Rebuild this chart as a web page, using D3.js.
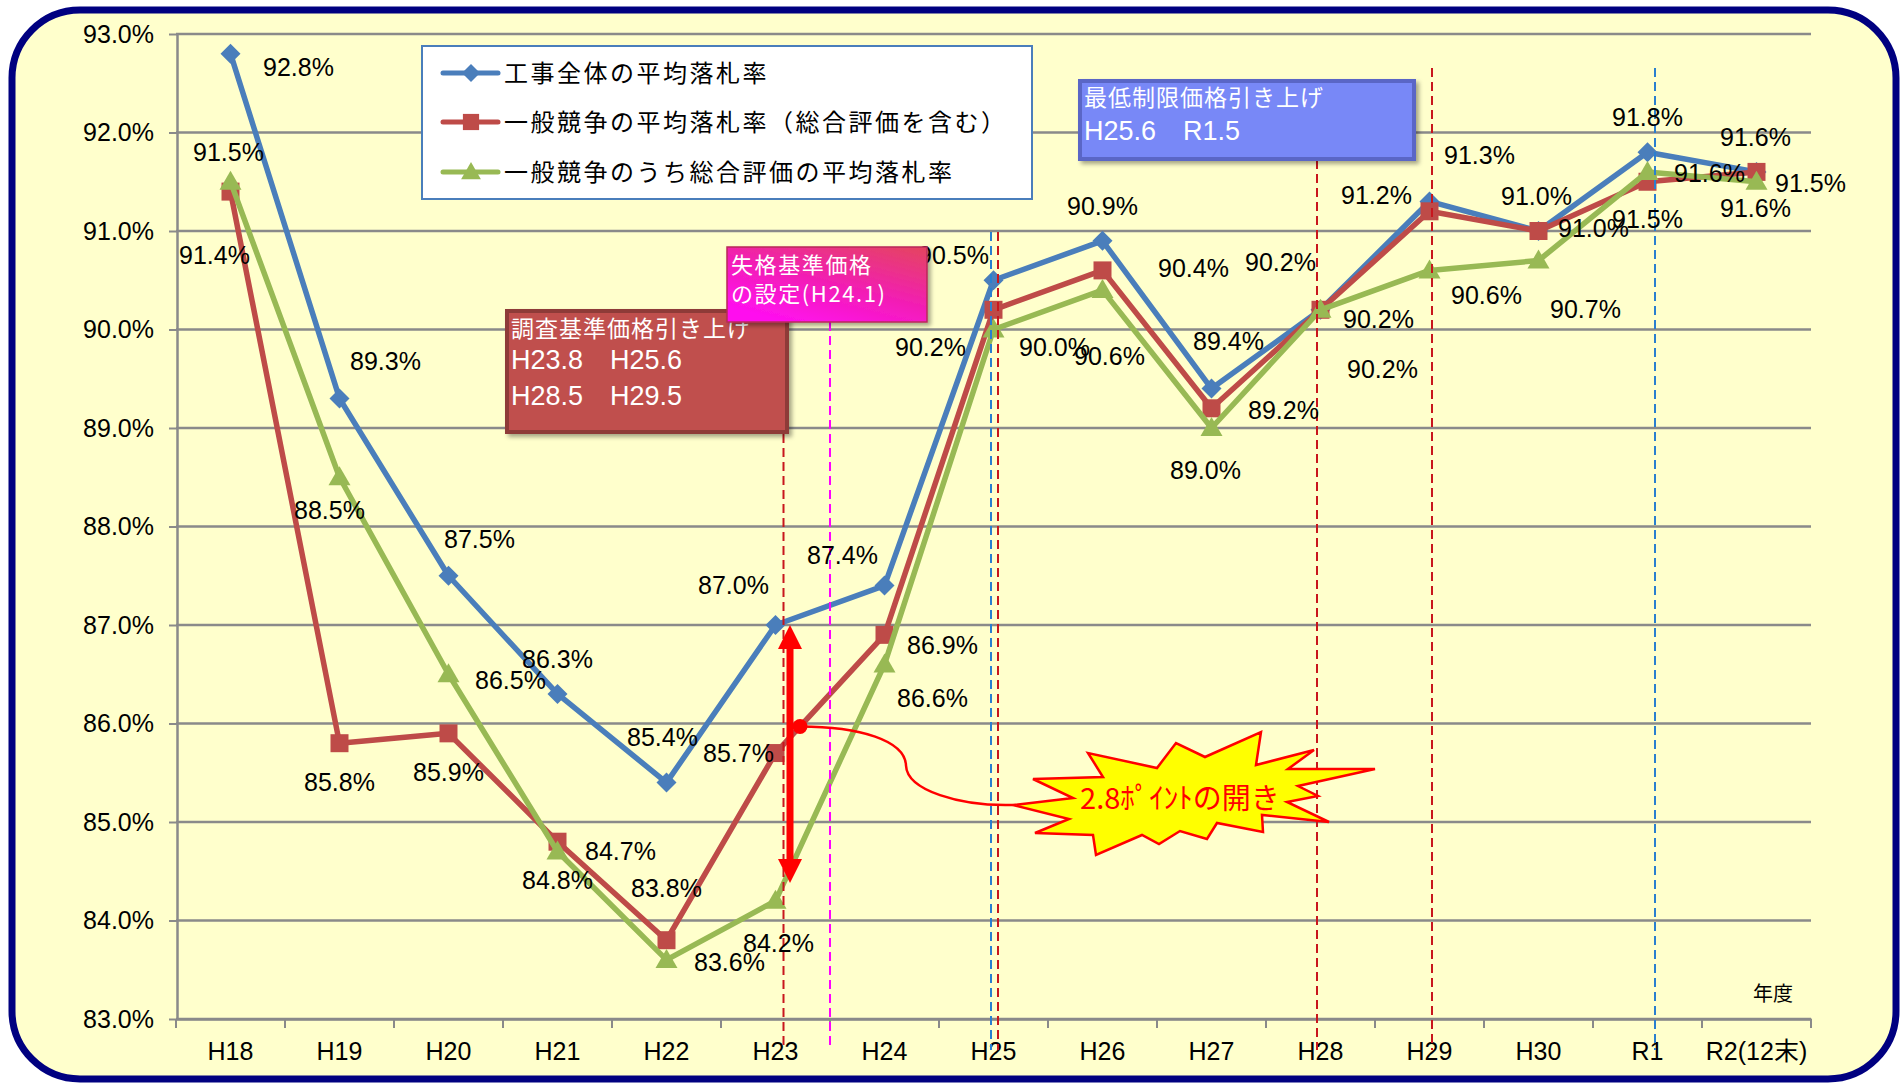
<!DOCTYPE html>
<html>
<head>
<meta charset="utf-8">
<title>平均落札率の推移</title>
<style>
body { margin: 0; background: #fff; }
svg { display: block; }
</style>
</head>
<body>
<svg width="1903" height="1083"></svg>
<script src="https://d3js.org/d3.v7.min.js"></script>
<script>

// data
var categories = ["H18", "H19", "H20", "H21", "H22", "H23", "H24", "H25", "H26", "H27", "H28", "H29", "H30", "R1", "R2(12末)"];
var seriesNames = ["工事全体の平均落札率", "一般競争の平均落札率（総合評価を含む）", "一般競争のうち総合評価の平均落札率"];
var allWorks      = [92.8, 89.3, 87.5, 86.3, 85.4, 87.0, 87.4, 90.5, 90.9, 89.4, 90.2, 91.3, 91.0, 91.8, 91.6];
var generalComp   = [91.4, 85.8, 85.9, 84.8, 83.8, 85.7, 86.9, 90.2, 90.6, 89.2, 90.2, 91.2, 91.0, 91.5, 91.6];
var comprehensive = [91.5, 88.5, 86.5, 84.7, 83.6, 84.2, 86.6, 90.0, 90.4, 89.0, 90.2, 90.6, 90.7, 91.6, 91.5];
var yTicks = [83, 84, 85, 86, 87, 88, 89, 90, 91, 92, 93];

// label placement (pixel offsets from each point), as in the original
var blueLabelOff  = [[68,13],[46,-37],[31,-37],[0,-35],[-4,-46],[-42,-40],[-42,-31],[-40,-25],[0,-35],[17,-48],[-40,-48],[50,-46],[-2,-35],[0,-35],[-1,-35]];
var redLabelOff   = [[-16,63],[0,39],[0,39],[0,38],[0,-52],[-37,0],[58,10],[-63,37],[7,86],[72,2],[58,9],[-53,-16],[55,-3],[0,37],[-1,36]];
var greenLabelOff = [[-2,-30],[-10,33],[62,6],[63,-1],[63,2],[3,42],[48,34],[61,17],[91,-22],[-6,42],[62,59],[57,25],[47,48],[62,1],[54,1]];

var latin = "'Liberation Sans', Arial, 'Noto Sans CJK JP', sans-serif",
    jp = "'Noto Sans CJK JP', sans-serif",
    gridColor = "#8A8A8A";

var series = [
  {name: seriesNames[0], values: allWorks, color: "#4A7EBB", shape: "diamond", off: blueLabelOff},
  {name: seriesNames[1], values: generalComp, color: "#BE4B48", shape: "square", off: redLabelOff},
  {name: seriesNames[2], values: comprehensive, color: "#98B954", shape: "triangle", off: greenLabelOff}
];

var svg = d3.select("svg");

var x = d3.scaleBand().domain(categories).range([176, 1811]),
    y = d3.scaleLinear().domain([83, 93]).range([1019, 34]),
    cx = function(c) { return x(c) + x.bandwidth() / 2; };

function markerPath(shape) {
  if (shape == "diamond") return "M0,-10L10,0L0,10L-10,0Z";
  if (shape == "square") return "M-9,-9H9V9H-9Z";
  return "M0,-11L11,8H-11Z";
}

var defs = svg.append("defs");
var shadow = defs.append("filter").attr("id", "shadow").attr("x", "-10%").attr("y", "-10%").attr("width", "130%").attr("height", "140%");
shadow.append("feDropShadow").attr("dx", 3).attr("dy", 3).attr("stdDeviation", 2).attr("flood-color", "#000").attr("flood-opacity", 0.35);
var pink = defs.append("linearGradient").attr("id", "pink").attr("x1", 1).attr("y1", 0).attr("x2", 0.3).attr("y2", 1);
pink.append("stop").attr("offset", 0).attr("stop-color", "#E4455E");
pink.append("stop").attr("offset", 0.55).attr("stop-color", "#F21EB4");
pink.append("stop").attr("offset", 1).attr("stop-color", "#FF10EE");

// frame
svg.append("rect")
    .attr("x", 12).attr("y", 10).attr("width", 1884).attr("height", 1069).attr("rx", 68)
    .attr("fill", "#FFFFCC").attr("stroke", "#000080").attr("stroke-width", 7);

// gridlines
svg.append("g").selectAll("line").data(yTicks).join("line")
    .attr("x1", 176).attr("x2", 1811)
    .attr("y1", function(d) { return y(d); }).attr("y2", function(d) { return y(d); })
    .attr("stroke", gridColor).attr("stroke-width", 2.5);

// axes
var gy = svg.append("g").attr("transform", "translate(177,0)")
    .call(d3.axisLeft(y).tickValues(yTicks).tickSize(8).tickSizeOuter(0).tickPadding(15)
      .tickFormat(function(d) { return d3.format(".1f")(d) + "%"; }));
gy.select(".domain").attr("stroke", gridColor).attr("stroke-width", 2.5);
gy.selectAll(".tick line").attr("stroke", gridColor).attr("stroke-width", 2);
gy.selectAll("text").attr("font-size", 25).attr("font-family", latin).attr("fill", "#000");

var gx = svg.append("g").attr("transform", "translate(0,1019)")
    .call(d3.axisBottom(x).tickSize(0).tickSizeOuter(0).tickPadding(23));
gx.select(".domain").attr("stroke", gridColor).attr("stroke-width", 2.5);
gx.selectAll("text").attr("font-size", 25).attr("font-family", latin).attr("fill", "#000");
gx.selectAll(".bound").data(categories.map(function(c) { return x(c); }).concat([x.range()[1]]))
  .join("line")
    .attr("x1", function(d) { return d; }).attr("x2", function(d) { return d; })
    .attr("y1", 0).attr("y2", 9)
    .attr("stroke", gridColor).attr("stroke-width", 2);

svg.append("text").attr("x", 1773).attr("y", 1001).attr("text-anchor", "middle")
    .attr("font-family", jp).attr("font-size", 20).text("年度");

// series
var line = d3.line()
    .x(function(d, i) { return cx(categories[i]); })
    .y(function(d) { return y(d); });

series.forEach(function(s) {
  svg.append("path").datum(s.values)
      .attr("d", line).attr("fill", "none")
      .attr("stroke", s.color).attr("stroke-width", 5.5).attr("stroke-linejoin", "round");
  svg.append("g").selectAll("path").data(s.values).join("path")
      .attr("d", markerPath(s.shape))
      .attr("transform", function(d, i) { return "translate(" + cx(categories[i]) + "," + y(d) + ")"; })
      .attr("fill", s.color);
});

// event lines (dashed)
var eventLines = [
  {cat: "H23", dx: 8,    top: 322, color: "#C8161D"},
  {cat: "H23", dx: 54.5, top: 322, color: "#FF00FF"},
  {cat: "H25", dx: -2.5, top: 232, color: "#2A7FCF"},
  {cat: "H25", dx: 4.5,  top: 232, color: "#C8161D"},
  {cat: "H28", dx: -3.5, top: 160, color: "#C8161D"},
  {cat: "H29", dx: 2.5,  top: 68,  color: "#C8161D"},
  {cat: "R1",  dx: 7.5,  top: 68,  color: "#2A7FCF"}
];
svg.append("g").selectAll("line").data(eventLines).join("line")
    .attr("x1", function(d) { return cx(d.cat) + d.dx; })
    .attr("x2", function(d) { return cx(d.cat) + d.dx; })
    .attr("y1", function(d) { return d.top; }).attr("y2", 1050)
    .attr("stroke", function(d) { return d.color; })
    .attr("stroke-width", 2).attr("stroke-dasharray", "9,5");

// data labels
series.forEach(function(s) {
  svg.append("g").selectAll("text").data(s.values).join("text")
      .attr("x", function(d, i) { return cx(categories[i]) + s.off[i][0]; })
      .attr("y", function(d, i) { return y(d) + s.off[i][1]; })
      .attr("dy", "0.36em").attr("text-anchor", "middle")
      .attr("font-family", latin).attr("font-size", 25).attr("fill", "#000")
      .text(function(d) { return d.toFixed(1) + "%"; });
});

// legend
var legend = svg.append("g");
legend.append("rect").attr("x", 422).attr("y", 46).attr("width", 610).attr("height", 153)
    .attr("fill", "#fff").attr("stroke", "#4A7EBB").attr("stroke-width", 2);
var rowY = [73, 122, 172];
series.forEach(function(s, i) {
  legend.append("line").attr("x1", 443).attr("x2", 498).attr("y1", rowY[i]).attr("y2", rowY[i])
      .attr("stroke", s.color).attr("stroke-width", 5).attr("stroke-linecap", "round");
  legend.append("path").attr("d", markerPath(s.shape))
      .attr("transform", "translate(471," + rowY[i] + ") scale(0.9)").attr("fill", s.color);
  legend.append("text").attr("x", 504).attr("y", rowY[i]).attr("dy", "0.36em")
      .attr("font-family", jp).attr("font-size", 24).attr("letter-spacing", 2.5)
      .attr("fill", "#000").text(s.name);
});

// annotation boxes
function box(x0, y0, w, h, fill, stroke, sw, lines) {
  var g = svg.append("g");
  g.append("rect").attr("x", x0).attr("y", y0).attr("width", w).attr("height", h)
      .attr("fill", fill).attr("stroke", stroke).attr("stroke-width", sw)
      .attr("filter", "url(#shadow)");
  lines.forEach(function(l) {
    g.append("text").attr("x", x0 + 4).attr("y", l.y)
        .attr("font-family", l.font).attr("font-size", l.size)
        .attr("letter-spacing", l.ls || 0).attr("fill", "#fff").text(l.t);
  });
}

box(507, 311, 280, 121, "#C0504D", "#8E3A38", 4, [
  {t: "調査基準価格引き上げ", y: 337, font: jp, size: 23, ls: 1},
  {t: "H23.8　H25.6", y: 369, font: latin, size: 27},
  {t: "H28.5　H29.5", y: 405, font: latin, size: 27}
]);
box(1080, 81, 334, 78, "#7888F7", "#5A66C6", 4, [
  {t: "最低制限価格引き上げ", y: 106, font: jp, size: 23, ls: 1},
  {t: "H25.6　R1.5", y: 140, font: latin, size: 27}
]);
box(727, 247, 200, 75, "url(#pink)", "#B82A5A", 1.5, [
  {t: "失格基準価格", y: 273, font: jp, size: 22, ls: 1.6},
  {t: "の設定(H24.1)", y: 302, font: jp, size: 22, ls: 1.6}
]);

// 2.8 point gap arrow
var ax = cx("H23") + 14.5, aTop = y(87.0), aBot = y(84.38);
svg.append("line").attr("x1", ax).attr("x2", ax).attr("y1", aTop + 20).attr("y2", aBot - 20)
    .attr("stroke", "#FF0000").attr("stroke-width", 7);
svg.append("path").attr("d", "M" + ax + "," + aTop + "l12,24h-24Z").attr("fill", "#FF0000");
svg.append("path").attr("d", "M" + ax + "," + aBot + "l12,-24h-24Z").attr("fill", "#FF0000");

var dotX = cx("H23") + 24.5, dotY = y(85.97);
svg.append("circle").attr("cx", dotX).attr("cy", dotY).attr("r", 7.5).attr("fill", "#FF0000");

var burstX = cx("H27") - 31.5, burstY = y(85) - 27;
var burst = [[-147,-16],[-77,-18],[-92,-42],[-23,-27],[-4,-52],[25,-38],[81,-63],[76,-30],[134,-45],[108,-26],
  [195,-26],[118,-9],[138,1],[107,7],[149,27],[82,20],[83,37],[37,28],[27,44],[0,36],[-21,49],[-38,40],
  [-84,60],[-87,40],[-145,38],[-111,24],[-167,10],[-107,3]];

svg.append("path")
    .attr("d", "M" + dotX + "," + dotY +
      "C" + (dotX + 60) + "," + dotY + " " + (dotX + 105) + "," + (dotY + 14) + " " + (dotX + 106) + "," + (dotY + 39) +
      "C" + (dotX + 107) + "," + (dotY + 64) + " " + (dotX + 160) + "," + (dotY + 80) + " " + (burstX - 167) + "," + (burstY + 10))
    .attr("fill", "none").attr("stroke", "#FF0000").attr("stroke-width", 2.5);

svg.append("polygon")
    .attr("points", burst.map(function(p) { return (burstX + p[0]) + "," + (burstY + p[1]); }).join(" "))
    .attr("fill", "#FFFF00").attr("stroke", "#FF0000").attr("stroke-width", 2.5).attr("stroke-linejoin", "miter");
svg.append("text").attr("x", burstX).attr("y", burstY + 4).attr("dy", "0.36em").attr("text-anchor", "middle")
    .attr("font-family", jp).attr("font-size", 29).attr("fill", "#FF0000").text("2.8ﾎﾟｲﾝﾄの開き");

</script>
</body>
</html>
